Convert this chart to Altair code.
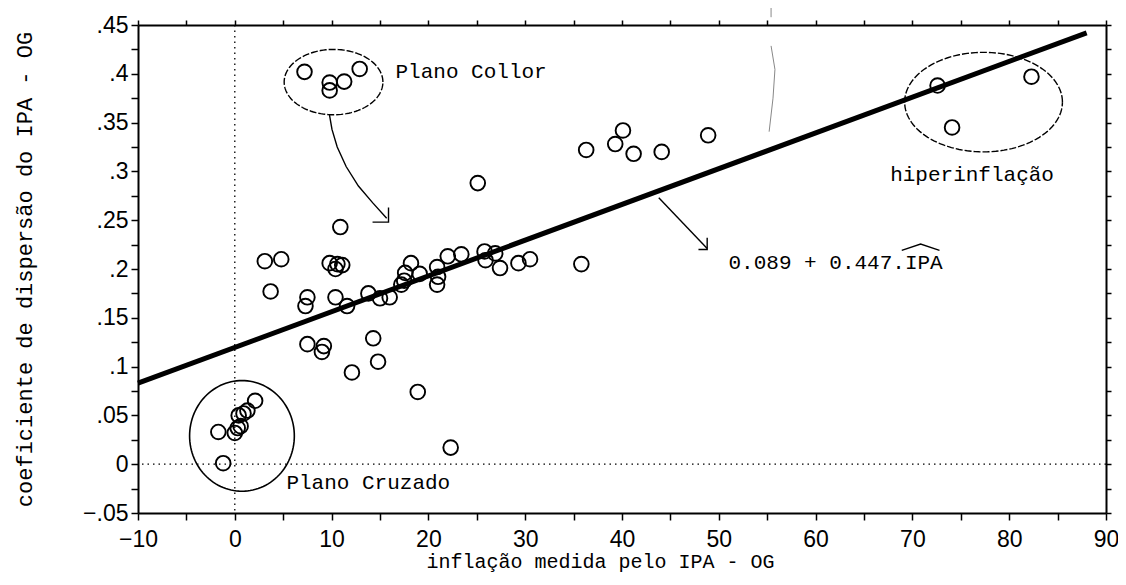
import altair as alt
import pandas as pd
import numpy as np

# ---- data ----
ipa = [-1.2, -1.7, 0.0, 0.3, 0.6, 0.4, 0.9, 1.3, 2.1,
       7.5, 9.2, 9.0, 12.1, 14.3, 14.8, 18.9, 22.3,
       3.7, 3.1, 4.8, 7.5, 7.3, 10.4, 11.6, 10.9, 9.8, 10.4, 10.6, 11.1,
       13.8, 15.0, 16.0, 17.2, 17.5, 17.6, 18.2, 19.1, 20.9, 21.0, 20.9,
       22.0, 23.4, 25.9, 25.8, 26.9, 27.4, 29.3, 30.5, 25.1, 35.8,
       36.3, 39.3, 40.1, 41.2, 44.1, 48.9,
       72.6, 82.3, 74.1,
       7.2, 9.8, 9.8, 11.3, 12.9]
disp = [0.001, 0.033, 0.032, 0.037, 0.039, 0.050, 0.052, 0.055, 0.065,
        0.123, 0.121, 0.115, 0.094, 0.129, 0.105, 0.074, 0.017,
        0.177, 0.208, 0.210, 0.171, 0.162, 0.171, 0.162, 0.243, 0.206, 0.200, 0.205, 0.204,
        0.175, 0.170, 0.171, 0.184, 0.188, 0.196, 0.206, 0.195, 0.202, 0.192, 0.184,
        0.213, 0.215, 0.209, 0.218, 0.216, 0.201, 0.206, 0.210, 0.288, 0.205,
        0.322, 0.328, 0.342, 0.318, 0.320, 0.337,
        0.388, 0.397, 0.345,
        0.402, 0.391, 0.383, 0.392, 0.405]

fit_x = [-10, 88]
fit_y = [0.083, 0.442]

x_ticks = list(range(-10, 91, 5))
y_ticks = [round(-0.05 + 0.025 * i, 3) for i in range(21)]

# annotation ellipses: name, center x, center y, radius x, radius y
ell_name = ["collor", "hiper", "cruzado"]
ell_cx = [10.2, 77.35, 0.74]
ell_cy = [0.3915, 0.371, 0.029]
ell_rx = [5.1, 8.15, 5.41]
ell_ry = [0.0335, 0.051, 0.0567]

# arrow from "Plano Collor" (curve) and from the fitted line
collor_arrow_x = [9.78, 10.04, 10.58, 11.50, 12.77, 14.23, 15.69]
collor_arrow_y = [0.358, 0.343, 0.325, 0.305, 0.285, 0.268, 0.252]
collor_head_x = [15.88, 15.88, 14.23]
collor_head_y = [0.263, 0.248, 0.248]
fit_arrow_x = [43.8, 48.8]
fit_arrow_y = [0.273, 0.221]
fit_head_x = [48.8, 48.8, 47.9]
fit_head_y = [0.232, 0.220, 0.220]

labels = ["Plano Collor", "hiperinflação", "0.089 + 0.447.IPA", "Plano Cruzado"]
label_x = [16.6, 67.7, 51.0, 5.33]
label_y = [0.402, 0.296, 0.206, -0.019]

hat_x = [68.9, 70.85, 72.8]
hat_y = [0.219, 0.2255, 0.219]

# faint scan mark near the top of the figure
mark_x = [55.4, 55.4, 55.4, 55.8, 55.6, 55.2]
mark_y = [0.474, 0.458, 0.4286, 0.4045, 0.375, 0.3407]
mark_g = ["m1", "m1", "m2", "m2", "m2", "m2"]

# ---- build tables ----
pts = pd.DataFrame({"ipa": ipa, "disp": disp})
fit = pd.DataFrame({"ipa": fit_x, "disp": fit_y})

rows = []
theta = np.linspace(0, 2 * np.pi, 121)
for n, cx, cy, rx, ry in zip(ell_name, ell_cx, ell_cy, ell_rx, ell_ry):
    for i, t in enumerate(theta):
        rows.append({"g": n, "i": i, "ipa": cx + rx * np.cos(t), "disp": cy + ry * np.sin(t)})
ell = pd.DataFrame(rows)

arrows = []
for g, xs_, ys_ in [("a1", collor_arrow_x, collor_arrow_y), ("h1", collor_head_x, collor_head_y),
                    ("a2", fit_arrow_x, fit_arrow_y), ("h2", fit_head_x, fit_head_y),
                    ("hat", hat_x, hat_y)]:
    for i, (a, b) in enumerate(zip(xs_, ys_)):
        arrows.append({"g": g, "i": i, "ipa": a, "disp": b})
arr = pd.DataFrame(arrows)

scan = pd.DataFrame({"ipa": mark_x, "disp": mark_y, "g": mark_g, "i": list(range(len(mark_x)))})

txt = pd.DataFrame({"ipa": label_x, "disp": label_y, "t": labels})

xs = alt.Scale(domain=[-10, 90], nice=False, zero=False)
ys = alt.Scale(domain=[-0.05, 0.45], nice=False, zero=False)

MONO = "Liberation Mono"
SANS = "Liberation Sans"

y_label_expr = ("round(datum.value*1000) % 50 != 0 ? '' : "
                "(datum.value == 0 ? '0' : replace(format(datum.value, '.2~f'), '0.', '.'))")
x_label_expr = "datum.value % 10 != 0 ? '' : format(datum.value, 'd')"

base_x = alt.X("ipa:Q", scale=xs, axis=None)
base_y = alt.Y("disp:Q", scale=ys, axis=None)

points = alt.Chart(pts).mark_point(
    shape="circle", filled=False, color="black", strokeWidth=1.9, size=215, opacity=1
).encode(
    x=alt.X("ipa:Q", scale=xs, axis=alt.Axis(
        values=x_ticks, labelExpr=x_label_expr, title="inflação medida pelo IPA - OG",
        grid=False, tickSize=7, tickWidth=1.5, tickColor="black", domainColor="black",
        domainWidth=2, labelFont=SANS, labelFontSize=23, labelColor="black", labelPadding=8,
        titleFont=MONO, titleFontSize=20, titleFontWeight="normal", titleColor="black",
        titlePadding=0, titleX=462, labelFlush=False)),
    y=alt.Y("disp:Q", scale=ys, axis=alt.Axis(
        values=y_ticks, labelExpr=y_label_expr, title="coeficiente de dispersão do IPA - OG",
        grid=False, tickSize=7, tickWidth=1.5, tickColor="black", domainColor="black",
        domainWidth=2, labelFont=SANS, labelFontSize=23, labelColor="black", labelPadding=3,
        titleFont=MONO, titleFontSize=22, titleFontWeight="normal", titleColor="black",
        titlePadding=46, labelFlush=False)),
)

frame_axes = alt.Chart(pts).mark_point(opacity=0).encode(
    x=alt.X("ipa:Q", scale=xs, axis=alt.Axis(
        orient="top", values=x_ticks, labels=False, title=None, grid=False, tickSize=5,
        tickWidth=1.5, tickColor="black", domainColor="black", domainWidth=2)),
    y=alt.Y("disp:Q", scale=ys, axis=alt.Axis(
        orient="right", values=y_ticks, labels=False, title=None, grid=False, tickSize=5,
        tickWidth=1.5, tickColor="black", domainColor="black", domainWidth=2)),
)

zero_v = alt.Chart(pd.DataFrame({"ipa": [0]})).mark_rule(
    color="black", strokeDash=[1.5, 4], strokeWidth=1.3).encode(x=base_x)
zero_h = alt.Chart(pd.DataFrame({"disp": [0]})).mark_rule(
    color="black", strokeDash=[1.5, 4], strokeWidth=1.3).encode(y=base_y)

fit_line = alt.Chart(fit).mark_line(color="black", strokeWidth=5).encode(x=base_x, y=base_y)

ell_dashed = alt.Chart(ell[ell.g != "cruzado"]).mark_line(
    color="black", strokeWidth=1.4, strokeDash=[7, 2]).encode(
    x=base_x, y=base_y, detail="g:N", order="i:Q")
ell_solid = alt.Chart(ell[ell.g == "cruzado"]).mark_line(
    color="black", strokeWidth=1.6).encode(x=base_x, y=base_y, detail="g:N", order="i:Q")

arrow_lines = alt.Chart(arr).mark_line(color="black", strokeWidth=1.4).encode(
    x=base_x, y=base_y, detail="g:N", order="i:Q")

scan_line = alt.Chart(scan).mark_line(color="#888888", strokeWidth=1, clip=False).encode(
    x=base_x, y=base_y, detail="g:N", order="i:Q")

texts = alt.Chart(txt).mark_text(
    align="left", baseline="middle", font=MONO, fontSize=21, color="black").encode(
    x=base_x, y=base_y, text="t:N")

chart = alt.layer(
    frame_axes, zero_v, zero_h, scan_line, ell_dashed, ell_solid, arrow_lines, fit_line, points, texts
).resolve_axis(x="independent", y="independent").properties(
    width=968, height=488,
    padding={"left": 130, "top": 17, "right": 12, "bottom": 60},
    autosize=alt.AutoSizeParams(type="none"),
    background="white",
).configure_view(stroke=None)

chart.save("out.html", embed_options={"renderer": "svg", "actions": False})
